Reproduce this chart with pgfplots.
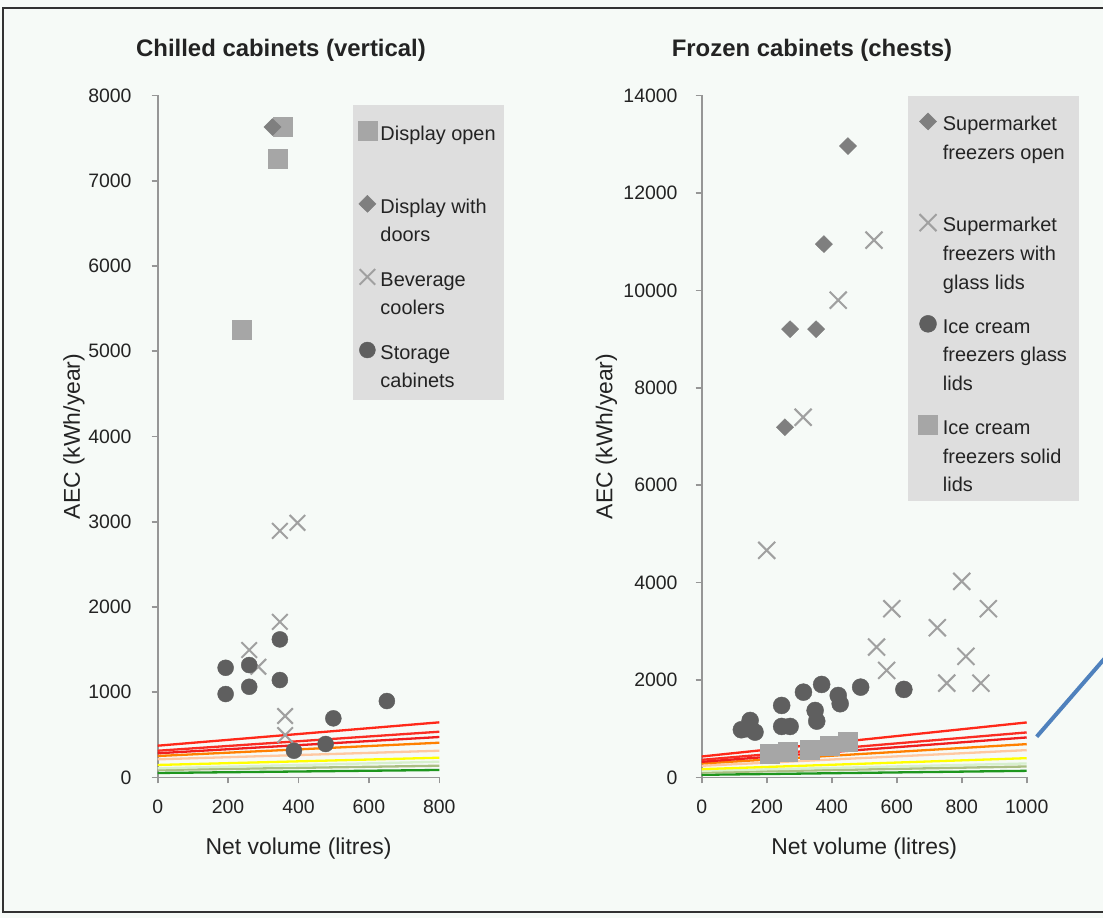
\documentclass[border=0pt]{standalone}
\usepackage{pgfplots}
\pgfplotsset{compat=1.18}
\usepackage{fontspec}
\setmainfont{Liberation Sans}
\usepackage{array}

\definecolor{bgc}{RGB}{246,250,247}
\definecolor{framec}{RGB}{50,50,50}
\definecolor{axg}{RGB}{150,150,150}
\definecolor{tkc}{RGB}{35,35,35}
\definecolor{lgbg}{RGB}{222,222,222}
\definecolor{sqc}{RGB}{166,166,166}
\definecolor{dmc}{RGB}{127,127,127}
\definecolor{xc}{RGB}{160,160,160}
\definecolor{cic}{RGB}{95,95,95}
\definecolor{lA}{RGB}{255,40,25}
\definecolor{lB}{RGB}{250,45,35}
\definecolor{lC}{RGB}{240,30,30}
\definecolor{lD}{RGB}{255,128,0}
\definecolor{lE}{RGB}{255,200,160}
\definecolor{lF}{RGB}{255,255,0}
\definecolor{lG}{RGB}{215,240,205}
\definecolor{lH}{RGB}{170,190,130}
\definecolor{lI}{RGB}{30,150,30}
\definecolor{blueline}{RGB}{79,129,189}

\newcommand{\tickfont}{\fontsize{19.5}{22}\selectfont}
\newcommand{\labfont}{\fontsize{23}{26}\selectfont}
\newcommand{\titfont}{\fontsize{24}{28}\selectfont\bfseries}
\newcommand{\legfont}{\fontsize{20}{28.8}\selectfont}
\newcommand{\lent}[1]{\begin{tabular}[t]{@{}l@{}}#1\end{tabular}}

\pgfplotsset{
  cab/.style={
    scale only axis, height=682bp,
    axis lines=left,
    axis line style={-, draw=axg, line width=1.6bp},
    tick style={draw=axg, line width=1.6bp},
    major tick length=6bp,
    tick align=outside,
    ymin=0,
    scaled ticks=false,
    /pgf/number format/assume math mode=true,
    /pgf/number format/1000 sep={},
    ticklabel style={font=\tickfont, text=tkc},
    yticklabel style={inner sep=0pt},
    xticklabel style={inner sep=0pt, yshift=-16bp},
    every axis x label/.style={at={(axis description cs:0.5,0)}, anchor=base, yshift=-77bp, font=\labfont, text=tkc},
    legend cell align=left,
    legend style={fill=none, draw=none, inner sep=0pt, anchor=north west, font=\legfont, text=tkc, nodes={inner sep=0pt}},
    legend image code/.code={\path[draw=none, fill=none] (-9bp,-6bp) rectangle (9bp,6bp); \draw[##1] plot coordinates {(0bp,0bp)};},
    clip=false,
  },
  ln/.style={forget plot, line width=2.3bp, no markers},
  msq/.style={only marks, color=sqc, mark=square*, mark size=9.5bp, mark options={draw=none, fill=sqc}},
  mdm/.style={only marks, color=dmc, mark=diamond*, mark size=8.5bp, mark options={draw=none, fill=dmc, xscale=1.35}},
  mx/.style={only marks, color=xc, mark=x, mark size=11bp, mark options={draw=xc, line width=2bp}},
  mci/.style={only marks, color=cic, mark=*, mark size=8bp, mark options={draw=none, fill=cic}},
}

\begin{document}
\begin{tikzpicture}[x=1bp,y=1bp]
\path[use as bounding box] (0,0) rectangle (1103,918);
\fill[bgc] (0,0) rectangle (1103,918);
\draw[line width=2.2bp, framec] (1115,910) -- (3,910) -- (3,6) -- (1115,6);
\fill[lgbg] (353,518) rectangle (504,813);
\fill[lgbg] (908,417) rectangle (1079,822);
\node[font=\titfont, text=tkc, anchor=base] at (281,861) {Chilled cabinets (vertical)};
\node[font=\titfont, text=tkc, anchor=base] at (812,861) {Frozen cabinets (chests)};
\draw[blueline, line width=4bp] (1036.7,181.3) -- (1112,268);

% ---------------- Left: chilled cabinets ----------------
\begin{axis}[cab, at={(157.7bp,140.5bp)}, anchor=south west, width=281.6bp,
  xmin=0, xmax=800, xtick={0,200,...,800},
  ymax=8000, ytick={0,1000,...,8000},
  yticklabel style={xshift=-20bp},
  xlabel={Net volume (litres)}, ylabel={AEC (kWh/year)},
  every axis y label/.style={at={(axis description cs:-0.276,0.5)}, rotate=90, anchor=base, font=\labfont, text=tkc},
  legend style={at={(axis description cs:0.7102,0.9644)}, row sep=51.5bp, column sep=3.6bp},
]
\addplot[msq] coordinates {(356,7630) (341,7260) (239,5256)};
\addlegendentry{\lent{Display open}}
\addplot[mdm] coordinates {(326,7630)};
\addlegendentry{\lent{Display with\\doors}}
\addplot[mx] coordinates {(347,2893) (397,2987) (347,1826) (260,1495) (286,1299) (362,721) (362,498)};
\addlegendentry{\lent{Beverage\\coolers}}
\addplot[mci] coordinates {(193,1287) (193,979) (260,1319) (260,1064) (347,1620) (347,1143) (499,694) (651,897) (387,314) (477,393)};
\addlegendentry{\lent{Storage\\cabinets}}
\addplot[ln, lI] coordinates {(0,53) (800,88)};
\addplot[ln, lH] coordinates {(0,88) (800,138)};
\addplot[ln, lG] coordinates {(0,108) (800,185)};
\addplot[ln, lF] coordinates {(0,147) (800,232)};
\addplot[ln, lE] coordinates {(0,213) (800,314)};
\addplot[ln, lD] coordinates {(0,252) (800,408)};
\addplot[ln, lC] coordinates {(0,284) (800,475)};
\addplot[ln, lB] coordinates {(0,314) (800,537)};
\addplot[ln, lA] coordinates {(0,373) (800,647)};
\end{axis}

% ---------------- Right: frozen cabinets ----------------
\begin{axis}[cab, at={(701.7bp,140.5bp)}, anchor=south west, width=325bp,
  xmin=0, xmax=1000, xtick={0,200,...,1000},
  ymax=14000, ytick={0,2000,...,14000},
  yticklabel style={xshift=-18bp},
  xlabel={Net volume (litres)}, ylabel={AEC (kWh/year)},
  every axis y label/.style={at={(axis description cs:-0.275,0.5)}, rotate=90, anchor=base, font=\labfont, text=tkc},
  legend style={at={(axis description cs:0.6665,0.978)}, row sep=79.6bp, column sep=5.4bp},
]
\addplot[mdm] coordinates {(450,12962) (376,10949) (272,9203) (352,9203) (256,7190)};
\addlegendentry{\lent{Supermarket\\freezers open}}
\addplot[mx, mark size=12bp] coordinates {(530,11031) (420,9799) (312,7395) (200,4663) (585,3465) (800,4026) (882,3465) (725,3075) (538,2677) (569,2198) (813,2486) (754,1937) (859,1937)};
\addlegendentry{\lent{Supermarket\\freezers with\\glass lids}}
\addplot[mci, mark size=8.5bp] coordinates {(122,980) (149,1171) (164,931) (138,1000) (246,1479) (246,1048) (272,1048) (313,1752) (369,1910) (349,1376) (354,1157) (420,1684) (426,1514) (489,1855) (622,1808)};
\addlegendentry{\lent{Ice cream\\freezers glass\\lids}}
\addplot[msq] coordinates {(208,495) (264,525) (332,572) (393,657) (450,725)};
\addlegendentry{\lent{Ice cream\\freezers solid\\lids}}
\addplot[ln, lI] coordinates {(0,55) (1000,137)};
\addplot[ln, lH] coordinates {(0,103) (1000,226)};
\addplot[ln, lG] coordinates {(0,137) (1000,288)};
\addplot[ln, lF] coordinates {(0,171) (1000,397)};
\addplot[ln, lE] coordinates {(0,240) (1000,562)};
\addplot[ln, lD] coordinates {(0,288) (1000,685)};
\addplot[ln, lC] coordinates {(0,322) (1000,822)};
\addplot[ln, lB] coordinates {(0,363) (1000,925)};
\addplot[ln, lA] coordinates {(0,431) (1000,1130)};
\end{axis}
\end{tikzpicture}
\end{document}
